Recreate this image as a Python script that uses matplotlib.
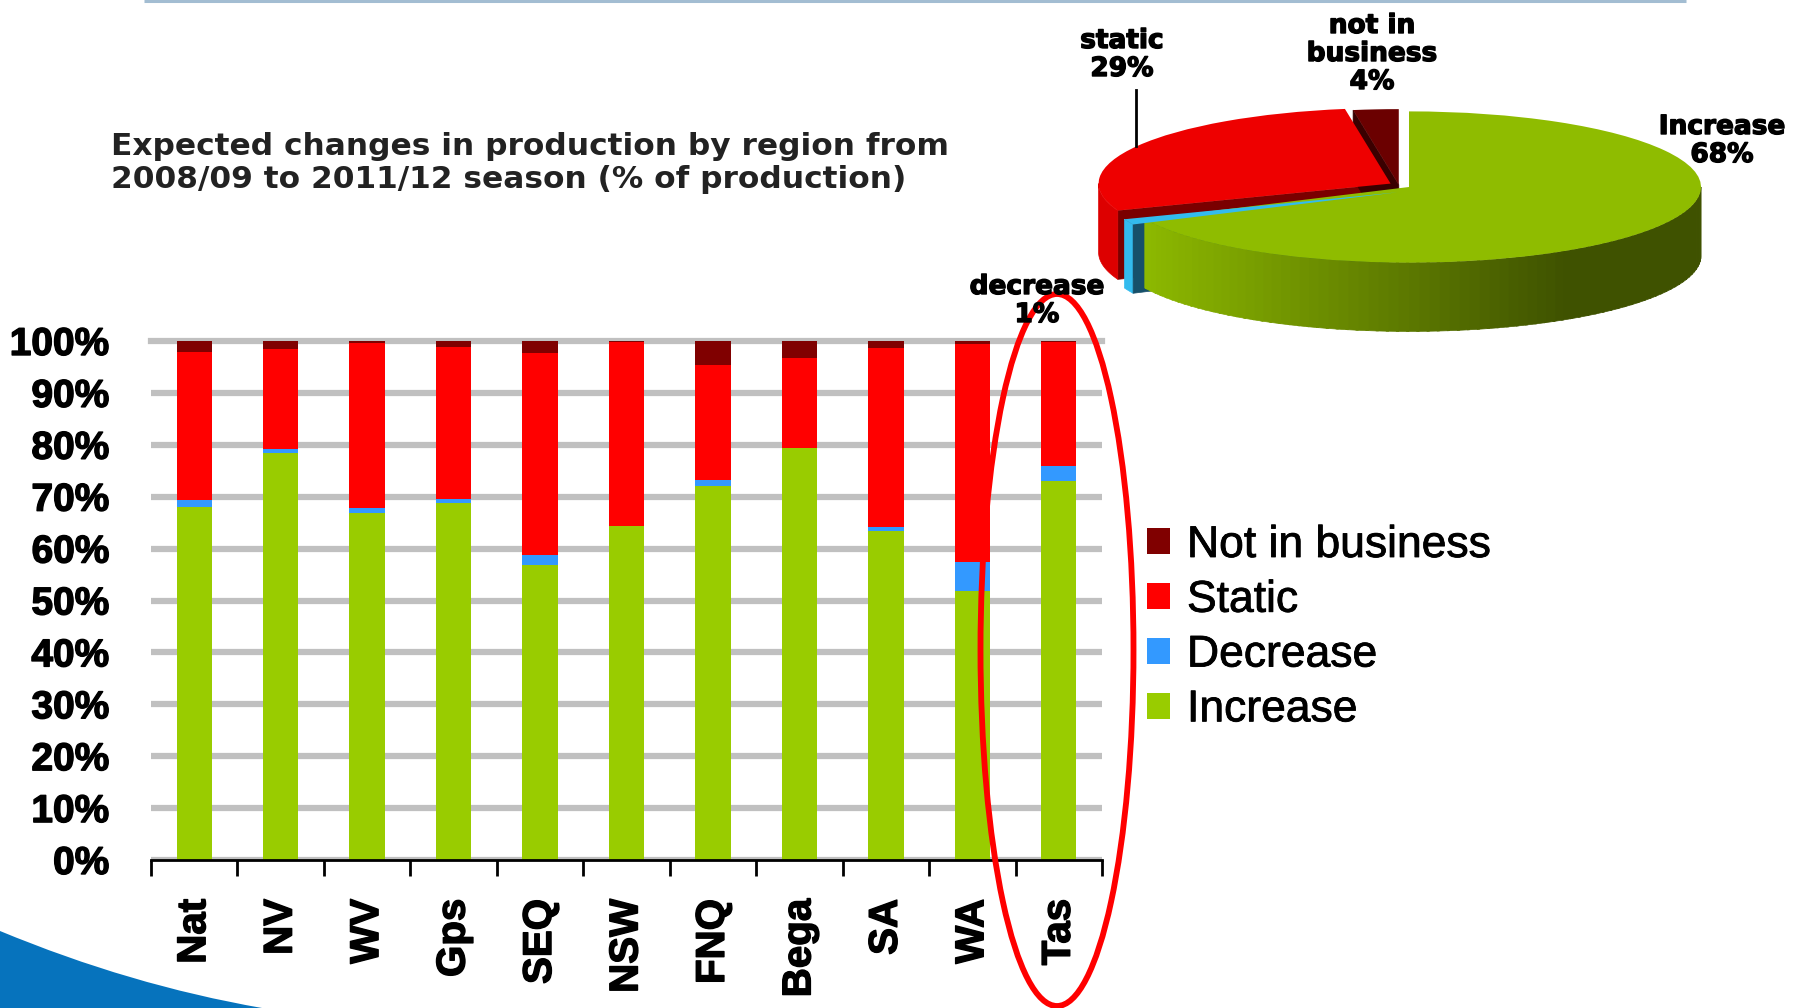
import numpy as np
import matplotlib
matplotlib.use('Agg')
import matplotlib.pyplot as plt
import matplotlib.patheffects as pe
from matplotlib.patches import Ellipse, PathPatch, Polygon
from matplotlib.path import Path

W, H = 1796, 1008

regions = ['Nat', 'NV', 'WV', 'Gps', 'SEQ', 'NSW', 'FNQ', 'Bega', 'SA', 'WA', 'Tas']
increase = [68.1, 78.5, 66.9, 68.8, 56.8, 64.4, 72.1, 79.4, 63.4, 51.9, 73.1]
decrease = [1.3, 0.7, 0.9, 0.8, 1.9, 0.0, 1.2, 0.0, 0.8, 5.6, 2.9]
static = [28.5, 19.2, 31.8, 29.3, 38.9, 35.5, 22.1, 17.3, 34.4, 41.9, 23.8]
not_in_business = [2.1, 1.6, 0.4, 1.1, 2.4, 0.1, 4.6, 3.3, 1.4, 0.6, 0.2]
yticks = [0, 10, 20, 30, 40, 50, 60, 70, 80, 90, 100]

# slice sizes as drawn, the printed labels do not add up to 100
pie_sizes = [68, 1.2, 28.3, 2.5]
pie_labels = ['Increase\n68%', 'decrease\n1%', 'static\n29%', 'not in\nbusiness\n4%']

green, blue, red, maroon = '#99cc00', '#3399ff', '#ff0000', '#800000'


def px_axes(left, top, right, bottom, **kw):
    return fig.add_axes([left / W, 1 - bottom / H, (right - left) / W, (bottom - top) / H], **kw)


def bold(w):
    return [pe.withStroke(linewidth=w, foreground='black')]


fig = plt.figure(figsize=(W / 100, H / 100), dpi=100, facecolor='white')

# stacked bars
ax = px_axes(151, 341, 1102, 860)
x = np.arange(len(regions))
inc = np.array(increase)
dec = np.array(decrease)
sta = np.array(static)
nib = np.array(not_in_business)
b1 = ax.bar(x, inc, 0.41, color=green, zorder=3, label='Increase')
b2 = ax.bar(x, dec, 0.41, bottom=inc, color=blue, zorder=3, label='Decrease')
b3 = ax.bar(x, sta, 0.41, bottom=inc + dec, color=red, zorder=3, label='Static')
b4 = ax.bar(x, nib, 0.41, bottom=inc + dec + sta, color=maroon, zorder=3, label='Not in business')
ax.set_xlim(-0.5, len(regions) - 0.5)
ax.set_ylim(0, 100)
for s in ['top', 'left', 'right']:
    ax.spines[s].set_visible(False)
ax.spines['bottom'].set_linewidth(2)
ax.spines['bottom'].set_zorder(5)
ax.set_yticks(yticks)
ax.set_yticklabels([f'{v}%' for v in yticks], fontfamily='Liberation Sans', fontweight='bold', fontsize=28)
ax.tick_params(axis='y', length=0, pad=30)
ax.set_xticks(x)
ax.set_xticklabels(regions, rotation=90, fontfamily='Liberation Sans', fontweight='bold', fontsize=29)
ax.set_xticks(np.arange(len(regions) + 1) - 0.5, minor=True)
ax.tick_params(axis='x', which='major', length=0, pad=28)
ax.tick_params(axis='x', which='minor', length=11.5, width=2)
ax.grid(axis='y', color='#c0c0c0', lw=4.5, zorder=1)
ax.set_axisbelow(True)
for t in ax.get_xticklabels() + ax.get_yticklabels():
    t.set_path_effects(bold(1))
ax.yaxis.get_gridlines()[-1].set_clip_on(False)

leg = ax.legend(handles=[b4, b3, b2, b1], loc='upper left', bbox_to_anchor=(1147 / W, 1 - 525 / H),
                bbox_transform=fig.transFigure, frameon=False, borderpad=0, borderaxespad=0,
                handlelength=0.52, handleheight=0.52, handletextpad=0.38, labelspacing=0.31,
                prop={'family': 'Liberation Sans', 'size': 32})
for t in leg.get_texts():
    t.set_path_effects(bold(0.6))

# 3d pie, one data unit is the radius of the ellipse
cx, cy, rx, ry = 1409, 187, 292, 75.6
depth = 0.91
pie = px_axes(cx - 1.3 * rx, cy - 1.3 * ry, cx + 1.3 * rx, cy + 2.2 * ry)
pie.patch.set_alpha(0)
wedges, _ = pie.pie(pie_sizes, colors=['#8fbc00', '#33bbee', '#ee0000', '#6b0000'],
                    startangle=90, counterclock=False, normalize=True)
pie.set_aspect('auto')
pie.set_xlim(-1.3, 1.3)
pie.set_ylim(-2.2, 1.3)
pie.axis('off')

offsets = [(0, 0), (-0.04, -0.07), (-0.063, 0.045), (-0.035, 0.03)]
for w, o in zip(wedges, offsets):
    w.set_center(o)
    w.set_zorder(6)
    w.set_linewidth(0)
wedges[1].set_zorder(7)

edges = np.cumsum([0] + pie_sizes) / sum(pie_sizes) * 360


def rim(deg, o):
    r = np.radians(deg)
    return np.column_stack([o[0] + np.sin(r), o[1] + np.cos(r)])


def wall(a, b, o, color, z):
    top = rim(np.linspace(a, b, 40), o)
    low = top[::-1] - [0, depth]
    pie.add_patch(Polygon(np.vstack([top, low]), fc=color, ec=color, lw=0.5, zorder=z))


def face(deg, o, color, z):
    p = rim(np.array([deg]), o)[0]
    tip = np.array(o, dtype=float)
    d = np.array([0, depth])
    pie.add_patch(Polygon([tip, p, p - d, tip - d], fc=color, ec=color, lw=0.5, zorder=z))


# green side with its shading, left to right
light = np.array(matplotlib.colors.to_rgb('#8db900'))
dark = np.array(matplotlib.colors.to_rgb('#3f5200'))
steps = np.arange(90, edges[1], 2.0)
for a in steps:
    s = np.sin(np.radians(a))
    f = np.clip((s + 0.9) / 1.45, 0, 1)
    wall(a, min(a + 2.5, edges[1]), offsets[0], tuple(light + (dark - light) * f), 4)

face(edges[2], offsets[2], '#7a0000', 2)
wall(edges[2], 270, offsets[2], '#dd0000', 3)
face(edges[1], offsets[1], '#16506a', 3.5)
wall(edges[1], edges[2], offsets[1], '#33bbee', 3.2)
face(edges[3], offsets[3], '#3a0000', 5)

# everything placed directly on the slide
over = fig.add_axes([0, 0, 1, 1], zorder=10)
over.set_xlim(0, W)
over.set_ylim(H, 0)
over.axis('off')
over.patch.set_alpha(0)

over.plot([144, 1686], [1, 1], color='#a3bdd2', lw=2.2, solid_capstyle='butt')
swoosh = Path([(0, 931), (130, 985), (262, 1008), (0, 1008), (0, 931)],
              [Path.MOVETO, Path.CURVE3, Path.CURVE3, Path.LINETO, Path.CLOSEPOLY])
over.add_patch(PathPatch(swoosh, fc='#0673bd', ec='none'))

over.text(111, 163, 'Expected changes in production by region from\n2008/09 to 2011/12 season (% of production)',
          fontfamily='DejaVu Sans', fontweight='bold', fontsize=22.5, color='#222222',
          va='center', ha='left', linespacing=1.2)

over.plot([1136, 1136], [90, 146], color='black', lw=2)
spots = [(1722, 141), (1037, 301), (1122, 55), (1372, 54)]
for lab, (tx, ty) in zip(pie_labels, spots):
    over.text(tx, ty, lab, ha='center', va='center', fontfamily='DejaVu Sans', fontweight='bold',
              fontsize=19, linespacing=1.1, path_effects=bold(1))

over.add_patch(Ellipse((1057, 650), 153, 712, fc='none', ec='#ff0000', lw=4.2))

fig.savefig('out.png', dpi=100)
